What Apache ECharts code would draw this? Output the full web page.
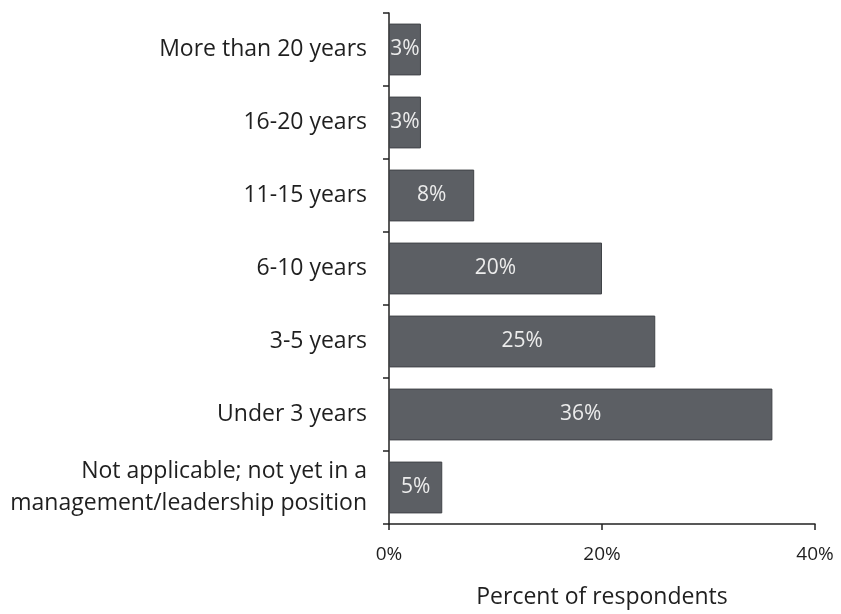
<!DOCTYPE html>
<html>
<head>
<meta charset="utf-8">
<script src="https://cdn.jsdelivr.net/npm/echarts@6/dist/echarts.min.js"></script>
<style>
  html, body { margin: 0; padding: 0; background: #ffffff; }
  #chart { width: 841px; height: 614px; }
</style>
</head>
<body>
<div id="chart"></div>
<script>
// Years in a management/leadership position (top to bottom)
const categories = [
  'More than 20 years',
  '16-20 years',
  '11-15 years',
  '6-10 years',
  '3-5 years',
  'Under 3 years',
  'Not applicable; not yet in a\nmanagement/leadership position'
];
const percents = [3, 3, 8, 20, 25, 36, 5];
const xTicks = [0, 20, 40];

const FONT = '"Open Sans", "Noto Sans", sans-serif';
const TEXT = '#1f1f1f';

const chart = echarts.init(document.getElementById('chart'), null, { renderer: 'canvas' });
chart.setOption({
  backgroundColor: '#ffffff',
  animation: false,
  grid: { left: 389, right: 26, top: 13, bottom: 90, containLabel: false },
  xAxis: {
    type: 'value',
    min: xTicks[0],
    max: xTicks[xTicks.length - 1],
    interval: xTicks[1] - xTicks[0],
    name: 'Percent of respondents',
    nameLocation: 'middle',
    nameGap: 62,
    nameTextStyle: { fontFamily: FONT, fontSize: 23, color: TEXT },
    axisLine: { show: true, lineStyle: { color: '#222', width: 1.5 } },
    axisTick: { show: true, length: 6, lineStyle: { color: '#222', width: 1.5 } },
    axisLabel: { formatter: '{value}%', margin: 21, fontFamily: FONT, fontSize: 19, color: TEXT },
    splitLine: { show: false }
  },
  yAxis: {
    type: 'category',
    inverse: true,
    data: categories,
    axisLine: { show: true, lineStyle: { color: '#222', width: 1.5 } },
    axisTick: { show: true, length: 6, lineStyle: { color: '#222', width: 1.5 } },
    axisLabel: { margin: 22, fontFamily: FONT, fontSize: 23, color: TEXT, lineHeight: 32, align: 'right' }
  },
  series: [{
    type: 'bar',
    data: percents,
    barCategoryGap: '29%',
    itemStyle: { color: '#5c5f64', borderColor: '#404347', borderWidth: 1 },
    label: {
      show: true,
      position: 'inside',
      formatter: '{c}%',
      fontFamily: FONT,
      fontSize: 21,
      color: '#ececec'
    }
  }]
});
</script>
</body>
</html>
